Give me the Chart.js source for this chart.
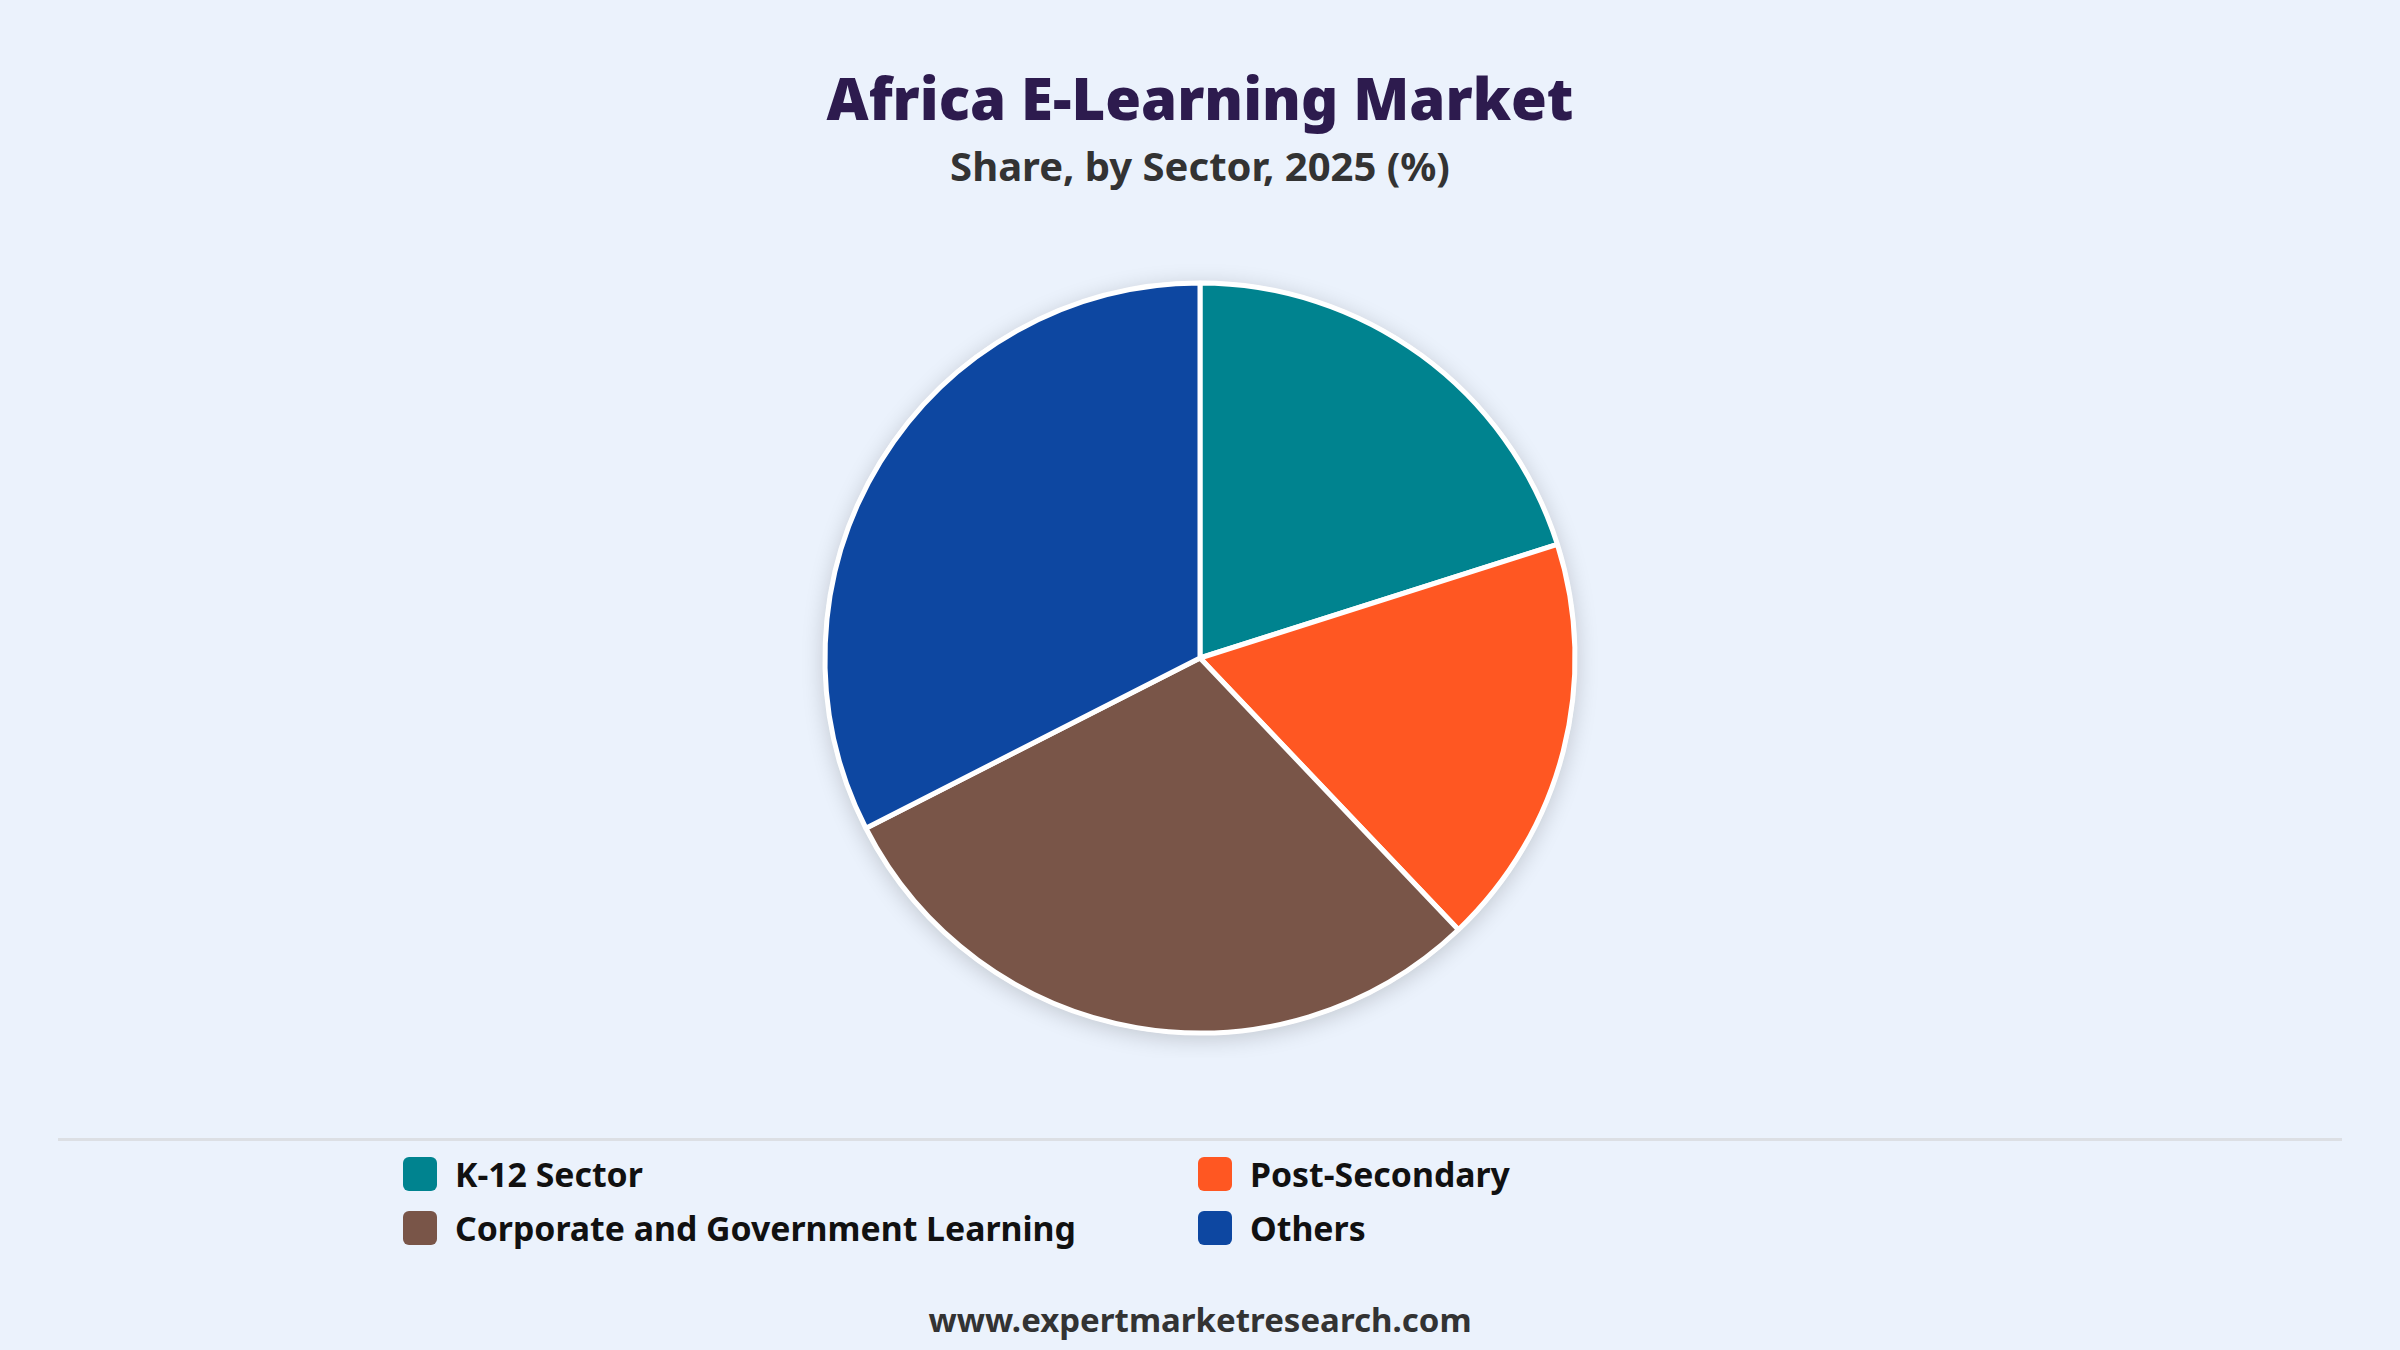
<!DOCTYPE html>
<html>
<head>
<meta charset="utf-8">
<script src="https://cdn.jsdelivr.net/npm/chart.js@4.4.0/dist/chart.umd.min.js"></script>
<style>
  html, body { margin:0; padding:0; }
  body { width:2400px; height:1350px; background:#ebf2fc; position:relative; overflow:hidden; font-family:"Noto Sans", "Open Sans", sans-serif; }
  #title { position:absolute; top:69px; left:0; width:2400px; text-align:center; font-size:58px; font-weight:900; color:#2d1b4e; line-height:1; }
  #subtitle { position:absolute; top:146px; left:0; width:2400px; text-align:center; font-size:40px; font-weight:700; color:#333; line-height:1; }
  #chartWrap { position:absolute; top:258px; left:0; width:2400px; height:800px; }
  #sep { position:absolute; top:1138px; left:58px; width:2284px; height:3px; background:#dcdfe4; }
  #legend { position:absolute; top:1156px; left:403px; width:1200px; display:grid; grid-template-columns:795px 400px; row-gap:18px; }
  .item { display:flex; align-items:center; height:36px; font-size:33.8px; font-weight:700; color:#111; white-space:nowrap; }
  .box { width:34px; height:34px; border-radius:6px; margin-right:18px; flex:none; }
  #footer { position:absolute; top:1303px; left:0; width:2400px; text-align:center; font-size:33px; font-weight:700; color:#333; line-height:1; }
</style>
</head>
<body>
<div id="title">Africa E-Learning Market</div>
<div id="subtitle">Share, by Sector, 2025 (%)</div>
<div id="chartWrap"><canvas id="c"></canvas></div>
<div id="sep"></div>
<div id="legend"></div>
<div id="footer">www.expertmarketresearch.com</div>
<script>
const categories = ["K-12 Sector", "Post-Secondary", "Corporate and Government Learning", "Others"];
const shares = [20.1, 17.8, 29.6, 32.5];
const colors = ["#00838f", "#ff5722", "#795548", "#0d47a1"];

// HTML legend built from the arrays
const legend = document.getElementById('legend');
categories.forEach((name, i) => {
  const d = document.createElement('div');
  d.className = 'item';
  const b = document.createElement('span');
  b.className = 'box';
  b.style.background = colors[i];
  const t = document.createElement('span');
  t.textContent = name;
  d.appendChild(b); d.appendChild(t);
  legend.appendChild(d);
});

const shadowPlugin = {
  id: 'pieShadow',
  beforeDatasetsDraw(chart) {
    const meta = chart.getDatasetMeta(0);
    if (!meta.data.length) return;
    const arc = meta.data[0];
    const ctx = chart.ctx;
    ctx.save();
    ctx.shadowColor = 'rgba(0,0,0,0.18)';
    ctx.shadowBlur = 22;
    ctx.shadowOffsetX = 0;
    ctx.shadowOffsetY = 4;
    ctx.beginPath();
    ctx.arc(arc.x, arc.y, arc.outerRadius + 2, 0, Math.PI * 2);
    ctx.fillStyle = '#ffffff';
    ctx.fill();
    ctx.restore();
  }
};

new Chart(document.getElementById('c'), {
  type: 'pie',
  data: {
    labels: categories,
    datasets: [{
      data: shares,
      backgroundColor: colors,
      borderColor: '#ffffff',
      borderWidth: 5,
      radius: 375
    }]
  },
  options: {
    responsive: true,
    maintainAspectRatio: false,
    animation: false,
    layout: { padding: 0 },
    plugins: {
      legend: { display: false },
      title: { display: false },
      tooltip: { enabled: false }
    }
  },
  plugins: [shadowPlugin]
});
</script>
</body>
</html>
